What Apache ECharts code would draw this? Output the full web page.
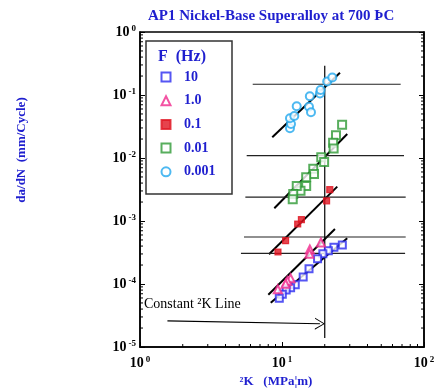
<!DOCTYPE html>
<html><head><meta charset="utf-8">
<script src="https://cdn.jsdelivr.net/npm/echarts@6/dist/echarts.min.js"></script>
<style>html,body{margin:0;padding:0;background:#fff}#c{width:438px;height:391px}</style>
</head><body><div id="c"></div>
<script>
// ---- data ----
const seriesNames = ['10', '1.0', '0.1', '0.01', '0.001'];
const f10 = [[26.6,4.16e-4],[23.2,3.83e-4],[21.2,3.38e-4],[19.4,3.03e-4],[17.8,2.51e-4],[15.5,1.74e-4],[14.1,1.29e-4],[12.4,9.75e-5],[11.5,8.73e-5],[10.7,8.03e-5],[10.05,6.87e-5],[9.57,5.93e-5]];
const f1 = [[18.8,4.56e-4],[15.7,3.53e-4],[15.6,3.03e-4],[11.5,1.23e-4],[10.9,1.12e-4],[10.6,1.01e-4],[9.34,8.24e-5]];
const f01 = [[21.7,3.14e-3],[20.6,2.09e-3],[13.7,1.05e-3],[12.9,8.96e-4],[10.6,4.87e-4],[9.37,3.22e-4]];
const f001 = [[26.5,3.38e-2],[24.0,2.29e-2],[22.9,1.75e-2],[23.1,1.41e-2],[18.9,1.03e-2],[19.8,8.65e-3],[16.6,6.77e-3],[16.8,5.57e-3],[14.8,4.93e-3],[14.8,3.60e-3],[13.5,3.03e-3],[12.7,3.60e-3],[12.0,2.68e-3],[11.9,2.21e-3]];
const f0001 = [[11.38,0.0296],[11.57,0.0347],[11.38,0.0427],[12.21,0.0464],[12.69,0.0662],[15.49,0.0652],[16.0,0.0531],[15.7,0.0953],[18.5,0.106],[18.7,0.120],[20.8,0.164],[22.6,0.190]];

const fit10 = [[8.33,5.05e-5],[28.8,5.31e-4]];
const fit1 = [[8.01,6.76e-5],[23.6,7.46e-4]];
const fit01 = [[8.10,2.96e-4],[24.5,3.51e-3]];
const fit001 = [[8.83,1.59e-3],[28.8,2.40e-2]];
const fit0001 = [[8.54,2.13e-2],[25.6,0.226]];

const hLevels = [0.148, 0.0109, 0.0024, 0.000557, 0.000307];
const hStarts = [6.22, 5.64, 5.52, 5.40, 5.14];
const hEnds = [68.5, 72.3, 74.3, 74.3, 73.6];

const constK = 20;
const constKRange = [1.39e-5, 0.29];
const arrowFrom = [1.56, 2.6e-5];
const arrowTo = [18.5, 2.34e-5];

const xDecades = [1, 10];
const yDecades = [1e-5, 1e-4, 1e-3, 1e-2, 1e-1];
const minorMult = [2, 3, 4, 5, 6, 7, 8, 9];

// ---- styles ----
const serif = 'Liberation Serif, Times New Roman, serif';
const blue = '#1f1fcf';
const colors = ['#2a2af0', '#f0288c', '#e01420', '#2e9a35', '#22a8ee'];
const symbols = ['emptyRect', 'emptyTriangle', 'rect', 'emptyRect', 'emptyCircle'];
const sizes = [7, 8, 6, 8, 8];
const pts = [f10, f1, f01, f001, f0001];
const fits = [fit10, fit1, fit01, fit001, fit0001];

const minorX = [];
xDecades.forEach(d => minorMult.forEach(m => minorX.push(d * m)));
const minorY = [];
yDecades.forEach(d => minorMult.forEach(m => minorY.push(d * m)));

const series = [];
pts.forEach((p, i) => series.push({
  name: seriesNames[i], type: 'scatter', data: p, symbol: symbols[i], symbolSize: sizes[i],
  itemStyle: {color: colors[i], borderColor: colors[i], borderWidth: 1.2}, z: 5
}));
fits.forEach(f => series.push({
  type: 'line', data: f, symbol: 'none', lineStyle: {color: '#000', width: 2}, silent: true, z: 3
}));
hLevels.forEach((v, i) => series.push({
  type: 'line', data: [[hStarts[i], v], [hEnds[i], v]], symbol: 'none',
  lineStyle: {color: '#222', width: 1.2}, silent: true, z: 3
}));
series.push({
  type: 'line', data: [[constK, constKRange[0]], [constK, constKRange[1]]], symbol: 'none',
  lineStyle: {color: '#000', width: 1.2}, silent: true, z: 3,
  markLine: {
    silent: true, symbol: ['none', 'path://M0,10 L5,0 L10,10 L9,10 L5,1.6 L1,10 Z'], symbolSize: [12, 10],
    lineStyle: {color: '#000', width: 1.2, type: 'solid'}, label: {show: false},
    data: [[{coord: arrowFrom}, {coord: arrowTo}]]
  }
});
// minor ticks
series.push({
  type: 'custom', silent: true, z: 6, data: minorX.map(v => [v, 1e-5]),
  renderItem: (params, api) => {
    const p = api.coord([api.value(0), 1e-5]);
    return {type: 'line', shape: {x1: p[0], y1: p[1], x2: p[0], y2: p[1] - 3}, style: {stroke: '#000', lineWidth: 1}};
  }
});
series.push({
  type: 'custom', silent: true, z: 6, data: minorY.map(v => [1, v]),
  renderItem: (params, api) => {
    const p = api.coord([1, api.value(1)]);
    const cs = params.coordSys;
    const r = cs.x + cs.width;
    return {type: 'group', children: [
      {type: 'line', shape: {x1: cs.x, y1: p[1], x2: cs.x + 3, y2: p[1]}, style: {stroke: '#000', lineWidth: 1}},
      {type: 'line', shape: {x1: r, y1: p[1], x2: r - 3, y2: p[1]}, style: {stroke: '#000', lineWidth: 1}}
    ]};
  }
});

const expLabel = v => '{b|10}{s|' + Math.round(Math.log10(v)) + '}';
const rich = {
  b: {fontFamily: serif, fontWeight: 'bold', fontSize: 14, color: '#000', lineHeight: 16},
  s: {fontFamily: serif, fontWeight: 'bold', fontSize: 9, color: '#000', verticalAlign: 'top', lineHeight: 10, padding: [0, 0, 0, 2]}
};

const chart = echarts.init(document.getElementById('c'), null, {renderer: 'canvas'});
chart.setOption({
  animation: false,
  backgroundColor: '#fff',
  title: {
    text: 'AP1 Nickel-Base Superalloy at 700 ÞC', left: 143, top: 4,
    textStyle: {fontFamily: serif, fontWeight: 'bold', fontSize: 15, color: blue}
  },
  grid: {left: 140, right: 14, top: 32, bottom: 44, show: true, borderColor: '#000', borderWidth: 1.5, backgroundColor: 'transparent'},
  xAxis: {
    type: 'log', logBase: 10, min: 1, max: 100,
    axisLine: {show: true, lineStyle: {color: '#000', width: 1.5}},
    axisTick: {inside: true, length: 5, lineStyle: {color: '#000'}},
    splitLine: {show: false},
    axisLabel: {formatter: expLabel, rich: rich, margin: 8}
  },
  yAxis: [{
    type: 'log', logBase: 10, min: 1e-5, max: 1,
    axisLine: {show: true, lineStyle: {color: '#000', width: 1.5}},
    axisTick: {inside: true, length: 5, lineStyle: {color: '#000'}},
    splitLine: {show: false},
    axisLabel: {formatter: expLabel, rich: rich, margin: 4}
  }, {
    type: 'log', logBase: 10, min: 1e-5, max: 1, position: 'right',
    axisLine: {show: true, lineStyle: {color: '#000', width: 1.5}},
    axisTick: {inside: true, length: 5, lineStyle: {color: '#000'}},
    splitLine: {show: false}, axisLabel: {show: false}
  }],
  legend: {
    data: seriesNames, orient: 'vertical', left: 155.5, top: 65,
    itemWidth: 9, itemHeight: 9, itemGap: 9.7,
    textStyle: {fontFamily: serif, fontWeight: 'bold', fontSize: 14, color: blue, padding: [0, 0, 0, 8.5]},
    selectedMode: false
  },
  graphic: [
    {type: 'rect', shape: {x: 146, y: 41, width: 86, height: 153}, style: {fill: 'none', stroke: '#333', lineWidth: 1.5}, z: 10},
    {type: 'text', x: 158, y: 57, style: {text: 'F  (Hz)', fontFamily: serif, fontWeight: 'bold', fontSize: 16, fill: blue, textVerticalAlign: 'middle'}, z: 10},
    {type: 'text', x: 144, y: 304, style: {text: 'Constant ²K Line', fontFamily: serif, fontSize: 14, fill: '#000', textVerticalAlign: 'middle'}, z: 10},
    {type: 'text', x: 276, y: 382, style: {text: '²K   (MPa¦m)', fontFamily: serif, fontWeight: 'bold', fontSize: 13, fill: blue, textAlign: 'center', textVerticalAlign: 'middle'}, z: 10},
    {type: 'text', x: 22, y: 150, rotation: Math.PI / 2, style: {text: 'da/dN  (mm/Cycle)', fontFamily: serif, fontWeight: 'bold', fontSize: 13, fill: blue, textAlign: 'center', textVerticalAlign: 'middle'}, z: 10}
  ],
  series: series
});
</script></body></html>
